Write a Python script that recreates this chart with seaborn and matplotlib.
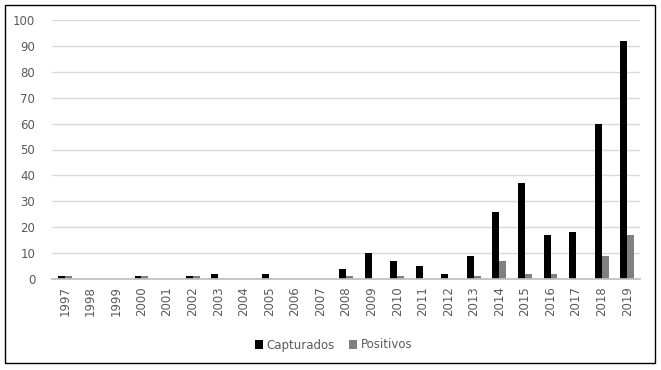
import matplotlib
matplotlib.use("Agg")
import matplotlib.pyplot as plt
import seaborn as sns
import pandas as pd
from matplotlib.patches import Rectangle

years = [str(y) for y in range(1997, 2020)]
capturados = [1, 0, 0, 1, 0, 1, 2, 0, 2, 0, 0, 4, 10, 7, 5, 2, 9, 26, 37, 17, 18, 60, 92]
positivos = [1, 0, 0, 1, 0, 1, 0, 0, 0, 0, 0, 1, 0, 1, 0, 0, 1, 7, 2, 2, 0, 9, 17]
series_names = ["Capturados", "Positivos"]
colors = ["#000000", "#808080"]

df = pd.DataFrame({
    "Año": years * 2,
    "Valor": capturados + positivos,
    "Serie": [series_names[0]] * len(years) + [series_names[1]] * len(years),
})

sns.set_theme(style="white")
plt.rcParams['font.family'] = ['DejaVu Sans']

fig = plt.figure(figsize=(6.61, 3.70), dpi=100)
ax = fig.add_axes([52/661, 1 - 279/370, (640-52)/661, (279-20)/370])

sns.barplot(data=df, x="Año", y="Valor", hue="Serie", palette=colors,
            width=0.54, ax=ax, legend=True, saturation=1, linewidth=0, gap=0)

ax.set_ylim(0, 100)
ax.set_yticks(range(0, 101, 10))
ax.set_xlim(-0.5, len(years) - 0.5)
ax.yaxis.grid(True, color="#d9d9d9", linewidth=1)
ax.set_axisbelow(True)
for s in ["top", "right", "left"]:
    ax.spines[s].set_visible(False)
ax.spines["bottom"].set_color("#bfbfbf")
ax.set_xlabel("")
ax.set_ylabel("")
ax.tick_params(axis="x", labelrotation=90, labelsize=8.5, colors="#595959", length=0, pad=5)
ax.tick_params(axis="y", labelsize=8.5, colors="#595959", length=0, pad=12)

handles, labels = ax.get_legend_handles_labels()
ax.legend(handles, labels, loc="center", bbox_to_anchor=(0.505, (370 - 345) / 370),
          bbox_transform=fig.transFigure, ncol=2, frameon=False, fontsize=8.5,
          handlelength=0.7, handleheight=0.7, handletextpad=0.3, columnspacing=1.2,
          labelcolor="#595959")

fig.patches.append(Rectangle((5/661, 1 - 363/370), 650/661, 358/370,
                             transform=fig.transFigure, fill=False,
                             edgecolor="black", linewidth=1))

fig.savefig("out.png", dpi=100, facecolor="white")
